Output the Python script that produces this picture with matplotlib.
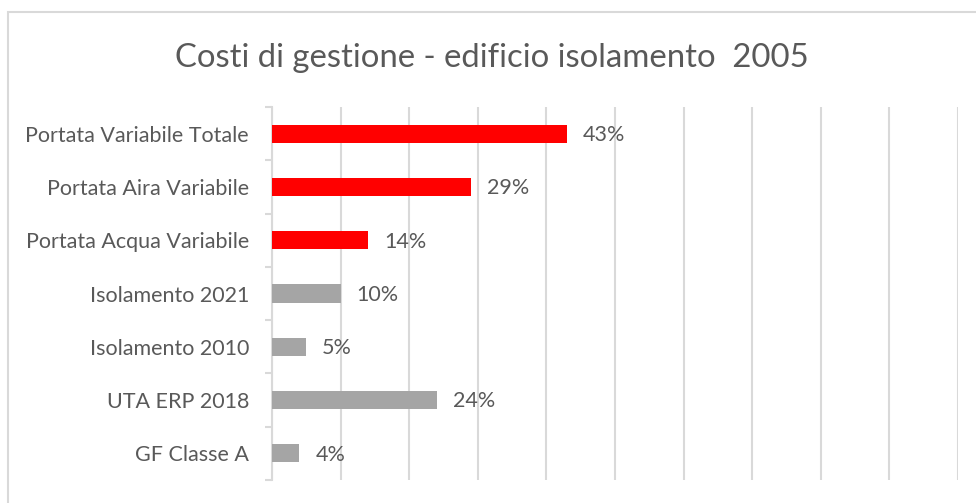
import matplotlib
matplotlib.use("Agg")
import matplotlib.pyplot as plt
import numpy as np
from matplotlib.patches import Rectangle
from matplotlib.ticker import FixedLocator

# dati del grafico (dall'alto verso il basso)
categorie = ["Portata Variabile Totale", "Portata Aira Variabile", "Portata Acqua Variabile",
             "Isolamento 2021", "Isolamento 2010", "UTA ERP 2018", "GF Classe A"]
valori = [43, 29, 14, 10, 5, 24, 4]
colori = ["#FF0000", "#FF0000", "#FF0000", "#A5A5A5", "#A5A5A5", "#A5A5A5", "#A5A5A5"]
titolo = "Costi di gestione - edificio isolamento  2005"

plt.rcParams['font.family'] = ['Lato', 'DejaVu Sans']
testo = "#595959"
griglia = "#D9D9D9"

W, H = 976, 503
fig = plt.figure(figsize=(W / 100, H / 100), dpi=100)
fig.patch.set_facecolor("white")

# cornice dell'area grafico
fig.patches.append(Rectangle((8 / W, -0.05), 1.0, (H - 12) / H + 0.05,
                             transform=fig.transFigure, fill=False,
                             edgecolor=griglia, linewidth=1.5))

ax = fig.add_axes([272 / W, 1 - 480 / H, (958 - 272) / W, (480 - 107) / H])
y = np.arange(len(categorie))
ax.barh(y, valori, height=0.34, color=colori, zorder=3)
ax.set_xlim(0, 100)
ax.set_ylim(len(categorie) - 0.5, -0.5)

ax.set_xticks(np.arange(0, 101, 10))
ax.set_xticklabels([])
ax.tick_params(axis="x", length=0)
ax.grid(axis="x", color=griglia, linewidth=1.5, zorder=0)

ax.set_yticks(y)
ax.set_yticklabels(categorie, fontsize=15.5, color=testo)
ax.tick_params(axis="y", which="major", length=0, pad=16.5)
ax.yaxis.set_minor_locator(FixedLocator(np.arange(-0.5, len(categorie), 1)))
ax.tick_params(axis="y", which="minor", length=5, color=griglia, width=1.5)

for s in ["top", "right", "bottom"]:
    ax.spines[s].set_visible(False)
ax.spines["left"].set_color(griglia)
ax.spines["left"].set_linewidth(1.5)

# etichette dei valori
for yi, v in zip(y, valori):
    ax.annotate(f"{v}%", (v, yi), xytext=(11.5, -1), textcoords="offset points",
                va="center", ha="left", fontsize=15.5, color=testo, zorder=4)

fig.text(0.5 * (8 + W) / W, 1 - 58 / H, titolo, ha="center", va="center",
         fontsize=23.7, color=testo)

fig.savefig("out.png", dpi=100)
